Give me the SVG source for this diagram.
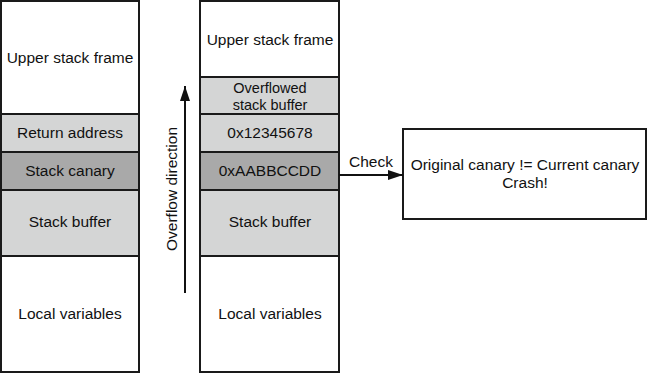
<svg xmlns="http://www.w3.org/2000/svg" width="649" height="374" viewBox="0 0 649 374">
<defs>
<style>
.box{stroke:#1a1a1a;stroke-width:2}
.w{fill:#ffffff}
.l{fill:#d4d5d5}
.d{fill:#a9a9a9}
text{font-family:"Liberation Sans","DejaVu Sans",sans-serif;font-size:15.5px;fill:#111;text-anchor:middle}
text.s{font-size:14.5px}
.ln{stroke:#111;stroke-width:2;fill:none}
</style>
<marker id="ah" markerWidth="16" markerHeight="10" refX="15" refY="5" orient="auto" markerUnits="userSpaceOnUse">
<path d="M0,0 L15,5 L0,10 Z" fill="#111"/>
</marker>
</defs>
<rect width="649" height="374" fill="#fff"/>
<g id="left-upper"><rect class="box w" x="1" y="1" width="138" height="113"/><text x="70" y="63">Upper stack frame</text></g>
<g id="left-return"><rect class="box l" x="1" y="114" width="138" height="38"/><text x="70" y="138">Return address</text></g>
<g id="left-canary"><rect class="box d" x="1" y="152" width="138" height="38"/><text x="70" y="176">Stack canary</text></g>
<g id="left-buffer"><rect class="box l" x="1" y="190" width="138" height="66"/><text x="70" y="227">Stack buffer</text></g>
<g id="left-locals"><rect class="box w" x="1" y="256" width="138" height="116"/><text x="70" y="319">Local variables</text></g>

<g id="right-upper"><rect class="box w" x="200" y="1" width="139" height="76"/><text x="270" y="45">Upper stack frame</text></g>
<g id="right-overflowed"><rect class="box l" x="200" y="77" width="139" height="37"/><text class="s" x="270" y="93">Overflowed</text><text class="s" x="270" y="110">stack buffer</text></g>
<g id="right-return"><rect class="box l" x="200" y="114" width="139" height="38"/><text x="270" y="138">0x12345678</text></g>
<g id="right-canary"><rect class="box d" x="200" y="152" width="139" height="38"/><text x="270" y="176">0xAABBCCDD</text></g>
<g id="right-buffer"><rect class="box l" x="200" y="190" width="139" height="66"/><text x="270" y="227">Stack buffer</text></g>
<g id="right-locals"><rect class="box w" x="200" y="256" width="139" height="116"/><text x="270" y="319">Local variables</text></g>

<g id="crash"><rect class="box w" x="403" y="129" width="243" height="90"/><text x="525" y="170">Original canary != Current canary</text><text x="525" y="188">Crash!</text></g>

<g id="connectors">
<line class="ln" x1="185" y1="293" x2="185" y2="86" marker-end="url(#ah)"/>
<text x="0" y="0" transform="translate(177,189) rotate(-90)">Overflow direction</text>
<line class="ln" x1="339" y1="175" x2="403" y2="175" marker-end="url(#ah)"/>
<text x="371" y="167">Check</text>
</g>
</svg>
